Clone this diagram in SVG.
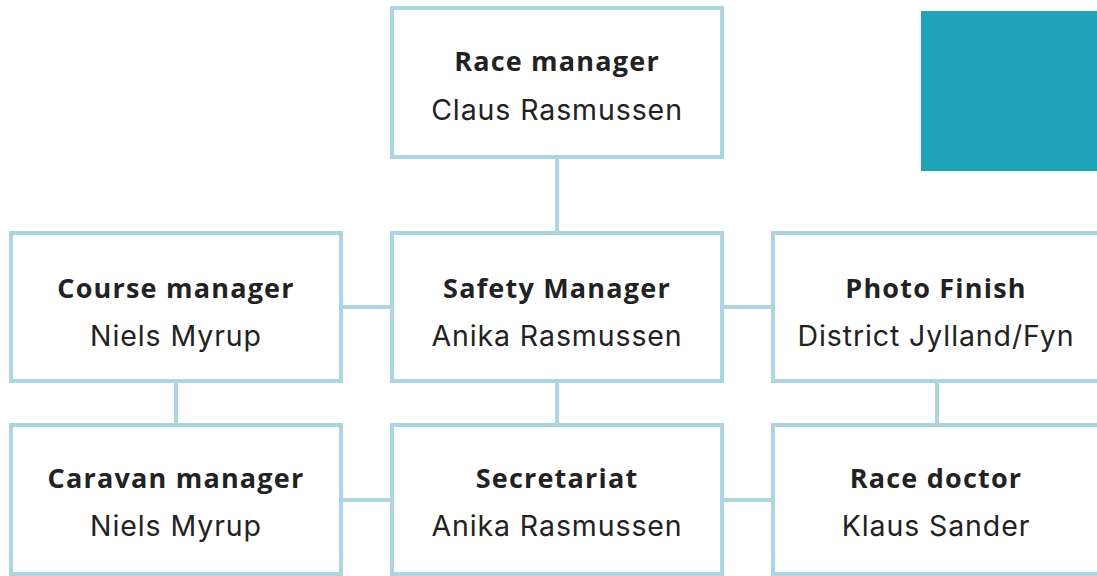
<svg xmlns="http://www.w3.org/2000/svg" width="1097" height="576" viewBox="0 0 1097 576">
<style>
.box{fill:#fff;stroke:#acd6df;stroke-width:4}
.conn{stroke:#acd6df;stroke-width:4;fill:none}
.t{font-family:"Open Sans",Lato,sans-serif;font-weight:700;font-size:27px;letter-spacing:1.2px;fill:#222;text-anchor:middle}
.n{font-family:Inter,"Noto Sans",sans-serif;font-size:28.5px;letter-spacing:0.9px;fill:#222;text-anchor:middle}
</style>
<rect x="0" y="0" width="1097" height="576" fill="#fff"/>
<rect id="accent" x="921" y="11" width="176" height="160" fill="#20a2b8"/>
<g id="connectors">
<line class="conn" x1="557" y1="159" x2="557" y2="231"/>
<line class="conn" x1="343" y1="307" x2="390" y2="307"/>
<line class="conn" x1="723" y1="307" x2="771" y2="307"/>
<line class="conn" x1="176" y1="383" x2="176" y2="423"/>
<line class="conn" x1="557" y1="383" x2="557" y2="423"/>
<line class="conn" x1="937" y1="383" x2="937" y2="423"/>
<line class="conn" x1="343" y1="500" x2="390" y2="500"/>
<line class="conn" x1="723" y1="500" x2="771" y2="500"/>
</g>
<g id="race-manager"><rect class="box" x="392" y="8" width="330" height="149"/><text class="t" x="557" y="71">Race manager</text><text class="n" x="557" y="120">Claus Rasmussen</text></g>
<g id="course-manager"><rect class="box" x="11" y="233" width="330" height="148"/><text class="t" x="176" y="298">Course manager</text><text class="n" x="176" y="346">Niels Myrup</text></g>
<g id="safety-manager"><rect class="box" x="392" y="233" width="330" height="148"/><text class="t" x="557" y="298">Safety Manager</text><text class="n" x="557" y="346">Anika Rasmussen</text></g>
<g id="photo-finish"><rect class="box" x="773" y="233" width="340" height="148"/><text class="t" x="936" y="298">Photo Finish</text><text class="n" x="936" y="346">District Jylland/Fyn</text></g>
<g id="caravan-manager"><rect class="box" x="11" y="425" width="330" height="149"/><text class="t" x="176" y="488">Caravan manager</text><text class="n" x="176" y="536">Niels Myrup</text></g>
<g id="secretariat"><rect class="box" x="392" y="425" width="330" height="149"/><text class="t" x="557" y="488">Secretariat</text><text class="n" x="557" y="536">Anika Rasmussen</text></g>
<g id="race-doctor"><rect class="box" x="773" y="425" width="340" height="149"/><text class="t" x="936" y="488">Race doctor</text><text class="n" x="936" y="536">Klaus Sander</text></g>
</svg>
